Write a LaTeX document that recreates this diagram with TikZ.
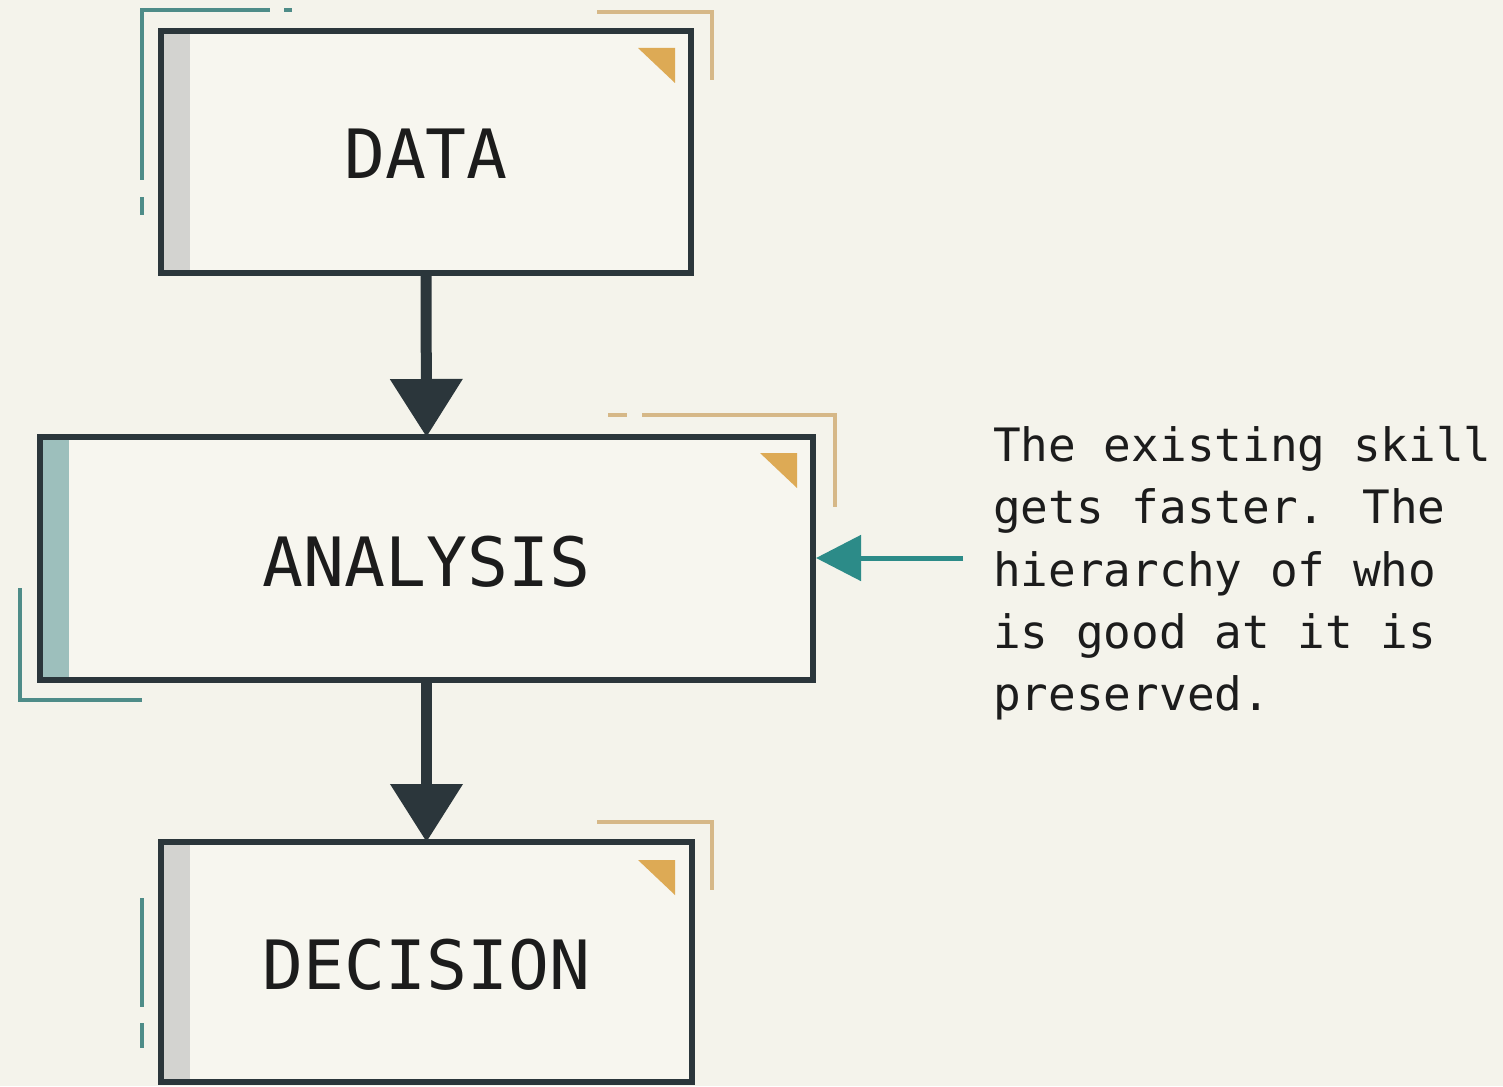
\documentclass[tikz,border=0pt]{standalone}
\usepackage{fontspec}
\usetikzlibrary{arrows.meta}
\newfontfamily\plexmono{DejaVu Sans Mono}
\definecolor{bgcol}{HTML}{F4F3EB}
\definecolor{boxfill}{HTML}{F7F6EF}
\definecolor{ink}{HTML}{2B363B}
\definecolor{txt}{HTML}{1C1C1C}
\definecolor{graybar}{HTML}{D3D3D0}
\definecolor{tealbar}{HTML}{9DBFBC}
\definecolor{tealline}{HTML}{4E8C88}
\definecolor{tealarrow}{HTML}{2C8B88}
\definecolor{goldline}{HTML}{D6B888}
\definecolor{goldtri}{HTML}{DDAA55}
\tikzset{
  flowbox/.style={draw=ink, line width=5.5pt, fill=boxfill, rectangle, outer sep=0pt, inner sep=0pt},
  boxlabel/.style={font=\plexmono\fontsize{68}{80}\selectfont, text=txt},
  flowarrow/.style={draw=ink, line width=11pt, -{Triangle[width=70pt,length=58pt]}, color=ink},
  notearrow/.style={draw=tealarrow, line width=5pt, -{Triangle[width=45pt,length=45pt]}, color=tealarrow},
  tealbrk/.style={draw=tealline, line width=4pt},
  goldbrk/.style={draw=goldline, line width=4pt},
  goldcorner/.style={fill=goldtri},
  notetext/.style={font=\plexmono\fontsize{46}{62.3}\selectfont, text=txt, align=left, inner sep=0pt, anchor=north west}
}
\begin{document}
\begin{tikzpicture}[x=1pt,y=-1pt]
\useasboundingbox (0,0) rectangle (1503,1086);
\fill[bgcol] (0,0) rectangle (1503,1086);

% decorative brackets (behind boxes)
\draw[tealbrk] (142,180) -- (142,10) -- (270,10);
\draw[tealbrk] (284,10) -- (292,10);
\draw[tealbrk] (142,197) -- (142,215);
\draw[goldbrk] (597,12) -- (712,12) -- (712,80);

\draw[goldbrk] (608,415) -- (627,415);
\draw[goldbrk] (642,415) -- (835,415) -- (835,507);
\draw[tealbrk] (20,588) -- (20,700) -- (142,700);

\draw[goldbrk] (597,822) -- (712,822) -- (712,890);
\draw[tealbrk] (142,898) -- (142,1007);
\draw[tealbrk] (142,1023) -- (142,1048);

% boxes
\node[flowbox, minimum width=530pt, minimum height=242pt] (data) at (426,152) {};
\node[flowbox, minimum width=773pt, minimum height=243pt] (analysis) at (426.5,558.5) {};
\node[flowbox, minimum width=531pt, minimum height=240pt] (decision) at (426.5,962) {};

% inner left bars
\fill[graybar] ([xshift=2.75pt,yshift=-2.75pt]data.north west) rectangle ([xshift=29pt,yshift=2.75pt]data.south west);
\fill[tealbar] ([xshift=2.75pt,yshift=-2.75pt]analysis.north west) rectangle ([xshift=29pt,yshift=2.75pt]analysis.south west);
\fill[graybar] ([xshift=2.75pt,yshift=-2.75pt]decision.north west) rectangle ([xshift=29pt,yshift=2.75pt]decision.south west);
\draw[ink, line width=5.5pt] (data.north west) rectangle (data.south east);
\draw[ink, line width=5.5pt] (analysis.north west) rectangle (analysis.south east);
\draw[ink, line width=5.5pt] (decision.north west) rectangle (decision.south east);

% labels
\node[boxlabel] (datalbl) at ([yshift=-2pt]data.center) {DATA};
\node[boxlabel] (analysislbl) at ([yshift=-3pt]analysis.center) {ANALYSIS};
\node[boxlabel] (decisionlbl) at ([yshift=-3pt]decision.center) {DECISION};

% gold corner triangles
\fill[goldcorner] (638,48) -- (675,48) -- (675,83) -- cycle;
\fill[goldcorner] (760,453) -- (797,453) -- (797,488) -- cycle;
\fill[goldcorner] (638,860) -- (675,860) -- (675,895) -- cycle;

% connectors
\draw[flowarrow] (data.south) -- (analysis.north);
\draw[flowarrow] (analysis.south) -- (decision.north);

\coordinate (notestart) at (963,558);
\draw[notearrow, shorten >=3pt] (notestart) -- (notestart -| analysis.east);

\node[notetext] (note) at (993,426) {The existing skill\\gets faster. The\\hierarchy of who\\is good at it is\\preserved.};
\end{tikzpicture}
\end{document}
